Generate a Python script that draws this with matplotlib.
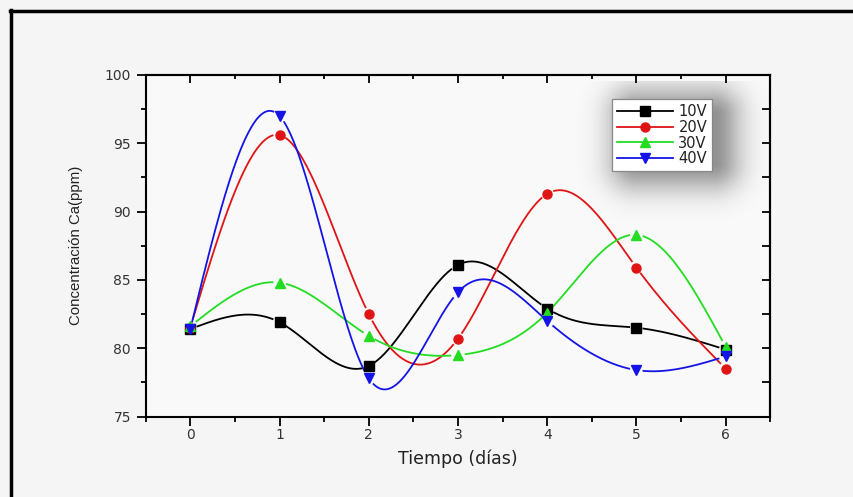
import numpy as np
import matplotlib
matplotlib.use('Agg')
import matplotlib.pyplot as plt
from matplotlib.lines import Line2D

# datos
dias = [0, 1, 2, 3, 4, 5, 6]
v10 = [81.4, 81.9, 78.7, 86.1, 82.9, 81.5, 79.9]
v20 = [81.5, 95.6, 82.5, 80.7, 91.3, 85.9, 78.5]
v30 = [81.6, 84.8, 80.9, 79.5, 82.6, 88.3, 80.1]
v40 = [81.4, 97.0, 77.8, 84.1, 82.0, 78.4, 79.4]
etiquetas = ['10V', '20V', '30V', '40V']


def spline_natural(x, y, xs):
    x = np.asarray(x, float); y = np.asarray(y, float)
    n = len(x); h = np.diff(x)
    A = np.zeros((n, n)); r = np.zeros(n)
    A[0, 0] = A[-1, -1] = 1
    for i in range(1, n - 1):
        A[i, i - 1] = h[i - 1]
        A[i, i] = 2 * (h[i - 1] + h[i])
        A[i, i + 1] = h[i]
        r[i] = 3 * ((y[i + 1] - y[i]) / h[i] - (y[i] - y[i - 1]) / h[i - 1])
    c = np.linalg.solve(A, r)
    b = (y[1:] - y[:-1]) / h - h * (2 * c[:-1] + c[1:]) / 3
    d = (c[1:] - c[:-1]) / (3 * h)
    k = np.clip(np.searchsorted(x, xs) - 1, 0, n - 2)
    t = xs - x[k]
    return y[k] + b[k] * t + c[k] * t ** 2 + d[k] * t ** 3


fig = plt.figure(figsize=(8.54, 4.97), dpi=100, facecolor='#f5f5f5')
ax = fig.add_axes([145.7 / 854, 1 - 416.5 / 497, 624.6 / 854, 341.5 / 497])
ax.set_facecolor('#f9f9f9')
ax.set_xlim(-0.5, 6.5)
ax.set_ylim(75, 100)

series = [v10, v20, v30, v40]
colores = ['#000000', '#e01414', '#22dd22', '#1414e6']
marcas = ['s', 'o', '^', 'v']

xs = np.linspace(0, 6, 600)
for vals, col, m, lab in zip(series, colores, marcas, etiquetas):
    ys = spline_natural(dias, vals, xs)
    # hueco alrededor de cada marca, como en Origin
    curva = ax.transData.transform(np.column_stack([xs, ys]))
    pts = ax.transData.transform(np.column_stack([dias, vals]))
    dist = np.min(np.hypot(curva[:, None, 0] - pts[None, :, 0],
                           curva[:, None, 1] - pts[None, :, 1]), axis=1)
    ys = np.where(dist < 7, np.nan, ys)
    ax.plot(xs, ys, color=col, lw=1.3, zorder=3)
    ax.plot(dias, vals, ls='none', marker=m, color=col, ms=6.5, zorder=4)
    ax.plot([], [], color=col, lw=1.3, marker=m, ms=6.5, label=lab)

# sombra difusa de la leyenda
gx = np.linspace(4.3, 6.5, 220)
gy = np.linspace(88.5, 99.5, 220)
GX, GY = np.meshgrid(gx, gy)
dx = np.maximum(np.maximum(5.0 - GX, GX - 5.85), 0) / 0.32
dy = np.maximum(np.maximum(93.6 - GY, GY - 97.0), 0) / 2.1
alpha = 0.42 * np.exp(-(dx ** 2 + dy ** 2))
rgba = np.zeros((220, 220, 4)); rgba[..., 3] = alpha
ax.imshow(rgba, extent=(4.3, 6.5, 88.5, 99.5), origin='lower', aspect='auto',
          interpolation='bilinear', zorder=4.5)
ax.set_xlim(-0.5, 6.5)
ax.set_ylim(75, 100)

leg = ax.legend(loc='upper left', bbox_to_anchor=(0.7466, 0.9297), borderaxespad=0,
                fancybox=False, framealpha=1, edgecolor='#888888', handlelength=3.8,
                handletextpad=0.4, labelspacing=0.05, borderpad=0.35,
                prop={'family': 'DejaVu Sans', 'size': 10.5})
leg.get_frame().set_linewidth(0.9)
leg.set_zorder(6)
for t in leg.get_texts():
    t.set_color('#222222')

ax.set_xticks(dias)
ax.set_xticks(np.arange(-0.5, 6.6, 0.5), minor=True)
ax.set_yticks([75, 80, 85, 90, 95, 100])
ax.set_yticks(np.arange(75, 100.1, 2.5), minor=True)
for s in ax.spines.values():
    s.set_linewidth(1.5)
ax.tick_params(which='major', direction='out', length=6.5, width=1.3,
               labelsize=10, labelcolor='#333333', pad=2)
ax.tick_params(which='minor', direction='out', length=3.5, width=1.3)
ax.tick_params(axis='y', pad=4)
for lbl in ax.get_xticklabels() + ax.get_yticklabels():
    lbl.set_family('DejaVu Sans')

top = ax.secondary_xaxis('top')
top.set_xticks(dias)
top.set_xticks(np.arange(-0.5, 6.6, 0.5), minor=True)
top.tick_params(which='both', direction='in', labeltop=False, width=1.3)
top.tick_params(which='major', length=6)
top.tick_params(which='minor', length=3)
right = ax.secondary_yaxis('right')
right.set_yticks([75, 80, 85, 90, 95, 100])
right.set_yticks(np.arange(75, 100.1, 2.5), minor=True)
right.tick_params(which='both', direction='in', labelright=False, width=1.3, length=6)
top.spines['top'].set_linewidth(1.5)
right.spines['right'].set_linewidth(1.5)

ax.set_xlabel('Tiempo (días)', fontsize=12.5, family='DejaVu Sans', color='#222222', labelpad=5)
ax.set_ylabel('Concentración Ca(ppm)', fontsize=10.8,
              family='Liberation Sans', color='#222222', labelpad=16)

# marco negro del recuadro
fig.add_artist(Line2D([10 / 854, 1], [1 - 10.5 / 497] * 2, lw=2.5, color='black',
                      transform=fig.transFigure))
fig.add_artist(Line2D([11.5 / 854] * 2, [0, 1 - 9.5 / 497], lw=2.5, color='black',
                      transform=fig.transFigure))

fig.savefig('out.png', dpi=100, facecolor=fig.get_facecolor())
